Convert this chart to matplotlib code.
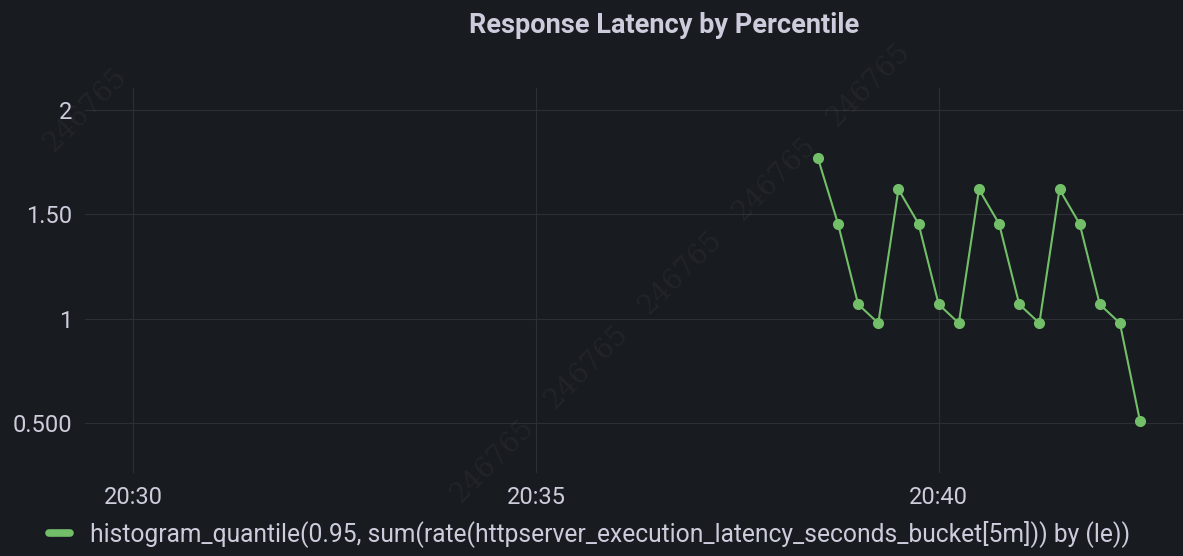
import datetime as dt
import matplotlib
matplotlib.use("Agg")
import matplotlib.pyplot as plt
import matplotlib.dates as mdates
from matplotlib.lines import Line2D

# data (15 s steps)
times = ["20:38:30", "20:38:45", "20:39:00", "20:39:15", "20:39:30", "20:39:45",
         "20:40:00", "20:40:15", "20:40:30", "20:40:45", "20:41:00", "20:41:15",
         "20:41:30", "20:41:45", "20:42:00", "20:42:15", "20:42:30"]
latency = [1.77, 1.455, 1.07, 0.98, 1.62, 1.455, 1.07, 0.98, 1.62, 1.455,
           1.07, 0.98, 1.62, 1.455, 1.07, 0.98, 0.51]
series_name = "histogram_quantile(0.95, sum(rate(httpserver_execution_latency_seconds_bucket[5m])) by (le))"
y_ticks = [0.5, 1, 1.5, 2]
y_tick_labels = ["0.500", "1", "1.50", "2"]

BG = "#181b1f"
GRID = "#2c2f35"
TEXT = "#ccccdc"
GREEN = "#73bf69"
W, H = 1183, 556

day = dt.date(2024, 1, 1)
def to_dt(s):
    return dt.datetime.combine(day, dt.datetime.strptime(s, "%H:%M:%S").time())

x = [to_dt(t) for t in times]

plt.rcParams["font.family"] = ["Roboto", "DejaVu Sans"]

fig = plt.figure(figsize=(W / 100, H / 100), dpi=100, facecolor=BG)

# faint diagonal watermark, only the copies that fit fully in the canvas
for c, x0 in [(195, 85), (953, 586)]:
    for k in range(-8, 9):
        cx = x0 + 94 * k
        cy = c - cx
        if 45 <= cx <= W - 45 and 45 <= cy <= H - 45:
            fig.text(cx / W, 1 - cy / H, "246765", rotation=45,
                     ha="center", va="center", fontsize=20, family="DejaVu Serif",
                     color="white", alpha=0.045, zorder=0)

ax = fig.add_axes([85 / W, 83 / H, 1 - 85 / W, (473 - 88) / H])
ax.set_facecolor("none")
ax.plot(x, latency, color=GREEN, lw=1.5, marker="o", markersize=7, zorder=3)

ax.set_xlim(to_dt("20:29:24"), to_dt("20:43:02"))
ax.set_ylim(0.263, 2.105)
ax.set_yticks(y_ticks)
ax.set_yticklabels(y_tick_labels)
ax.xaxis.set_major_locator(mdates.MinuteLocator(byminute=[30, 35, 40]))
ax.xaxis.set_major_formatter(mdates.DateFormatter("%H:%M"))

ax.grid(True, color=GRID, lw=0.8)
ax.set_axisbelow(True)
for s in ax.spines.values():
    s.set_visible(False)
ax.tick_params(length=0, colors=TEXT, labelsize=17)
ax.tick_params(axis="y", pad=9)
ax.tick_params(axis="x", pad=9)

fig.text(664 / W, 1 - 33 / H, "Response Latency by Percentile", ha="center",
         va="baseline", fontsize=19.5, fontweight="semibold", color=TEXT)

handle = Line2D([], [], color=GREEN, lw=5.5, solid_capstyle="round")
fig.legend([handle], [series_name], loc="center left",
           bbox_to_anchor=(49 / W, 1 - 534 / H), frameon=False,
           fontsize=17.7, labelcolor=TEXT, handlelength=0.85, handletextpad=0.8,
           borderpad=0, borderaxespad=0)

fig.savefig("out.png", dpi=100, facecolor=BG)
